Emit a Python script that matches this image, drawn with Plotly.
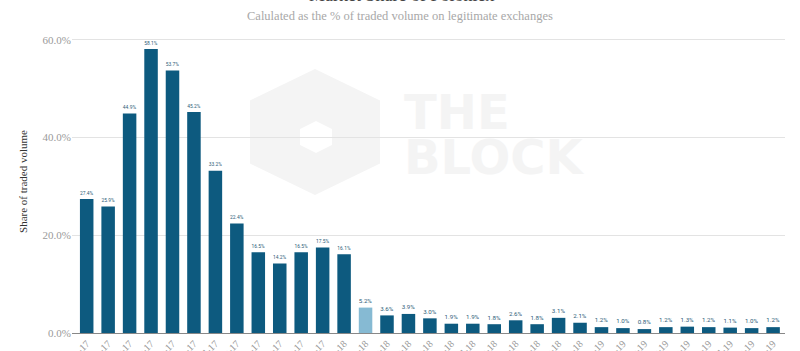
import math
import plotly.graph_objects as go

months = ["Jan", "Feb", "Mar", "Apr", "May", "Jun", "Jul", "Aug", "Sep", "Oct", "Nov", "Dec"]
categories = [f"{m}-17" for m in months] + [f"{m}-18" for m in months] + [f"{m}-19" for m in months[:9]]
share = [27.4, 25.9, 44.9, 58.1, 53.7, 45.2, 33.2, 22.4, 16.5, 14.2, 16.5, 17.5,
         16.1, 5.2, 3.6, 3.9, 3.0, 1.9, 1.9, 1.8, 2.6, 1.8, 3.1, 2.1,
         1.2, 1.0, 0.8, 1.2, 1.3, 1.2, 1.1, 1.0, 1.2]
highlight = "Feb-18"

DARK = "#0d5a7f"
LIGHT = "#86bad3"
colors = [LIGHT if c == highlight else DARK for c in categories]

W, H = 800, 351
ML, MR, MT, MB = 72, 15, 30, 18
PW, PH = W - ML - MR, H - MT - MB

def px(x):
    return (x - ML) / PW

def py(y):
    return (H - MB - y) / PH

fig = go.Figure()
fig.add_trace(go.Bar(
    x=list(range(len(categories))), y=share,
    marker=dict(color=colors, line=dict(width=0)),
    texttemplate="%{y:.1f}%", textposition="outside",
    textfont=dict(size=7.5, color="#2d5d78", family="Roboto, Arial, sans-serif"),
    cliponaxis=False, hoverinfo="skip",
))

# watermark: hexagon logo
def hexpath(cx, cy, rx, ry):
    pts = []
    for k in range(6):
        a = math.radians(90 + 60 * k)
        pts.append((px(cx + rx * math.cos(a) / 0.866), py(cy - ry * math.sin(a))))
    return "M " + " L ".join(f"{x:.4f},{y:.4f}" for x, y in pts) + " Z"

fig.add_shape(type="path", path=hexpath(315, 132, 65, 63), xref="paper", yref="paper",
              fillcolor="#f4f4f4", line=dict(width=0), layer="below")
fig.add_shape(type="path", path=hexpath(316, 137, 16, 16), xref="paper", yref="paper",
              fillcolor="#ffffff", line=dict(width=0), layer="below")
fig.add_annotation(x=px(402), y=py(112), xref="paper", yref="paper", xanchor="left", yanchor="middle",
                   text="<b>THE</b>", showarrow=False,
                   font=dict(size=48, color="#f4f4f4", family="DejaVu Sans, sans-serif"))
fig.add_annotation(x=px(402), y=py(157), xref="paper", yref="paper", xanchor="left", yanchor="middle",
                   text="<b>BLOCK</b>", showarrow=False,
                   font=dict(size=48, color="#f4f4f4", family="DejaVu Sans, sans-serif"))

# titles
fig.add_annotation(x=px(401), xref="paper", y=py(-5), yref="paper", xanchor="center", yanchor="middle",
                   text="Market Share of Poloniex", showarrow=False,
                   font=dict(size=18, color="#444444", family="Liberation Serif, Georgia, serif"))
fig.add_annotation(x=px(400), xref="paper", y=py(16), yref="paper", xanchor="center", yanchor="middle",
                   text="Calulated as the % of traded volume on legitimate exchanges", showarrow=False,
                   font=dict(size=12.5, color="#a8a8a8", family="Liberation Serif, Georgia, serif"))

fig.update_layout(
    width=W, height=H,
    margin=dict(l=ML, r=MR, t=MT, b=MB, autoexpand=False),
    paper_bgcolor="white", plot_bgcolor="white",
    bargap=0.37, showlegend=False,
    font=dict(family="Liberation Serif, Georgia, serif"),
)
fig.update_xaxes(
    range=[-0.685, 32.555], tickmode="array", tickvals=list(range(len(categories))),
    ticktext=categories, tickangle=-45, showgrid=False, showline=True,
    linecolor="#888888", linewidth=1, ticks="", automargin=False,
    tickfont=dict(size=10, color="#999999"),
)
fig.update_yaxes(
    range=[0, 62], tickvals=[0, 20, 40, 60], ticktext=["0.0%", "20.0%", "40.0%", "60.0%"],
    showgrid=True, gridcolor="#e3e3e3", gridwidth=1, zeroline=False,
    tickfont=dict(size=11, color="#9a9a9a"), automargin=False,
    title=dict(text="Share of traded volume", font=dict(size=11, color="#333333"), standoff=12),
)

fig.write_html("out.html")
